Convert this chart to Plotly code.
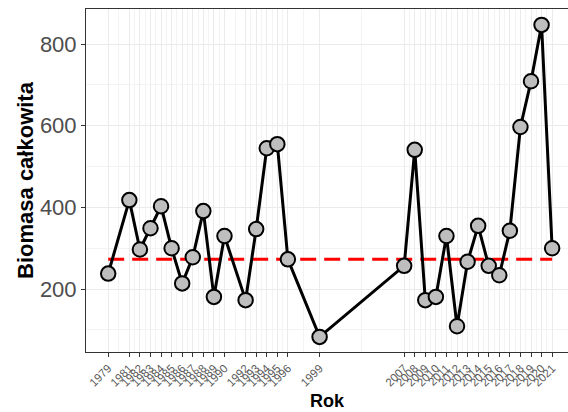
import plotly.graph_objects as go

years = [1979, 1981, 1982, 1983, 1984, 1985, 1986, 1987, 1988, 1989, 1990,
         1992, 1993, 1994, 1995, 1996, 1999,
         2007, 2008, 2009, 2010, 2011, 2012, 2013, 2014, 2015, 2016, 2017,
         2018, 2019, 2020, 2021]
biomasa = [238, 418, 297, 349, 403, 300, 214, 278, 391, 181, 330,
           173, 347, 545, 555, 273, 83,
           257, 541, 173, 181, 330, 109, 267, 355, 257, 234, 343,
           597, 709, 847, 300]
ref_level = 273
y_ticks = [200, 400, 600, 800]
y_minor = [100, 300, 500, 700]

x_minor = [(a + b) / 2 for a, b in zip(years[:-1], years[1:])]

FONT = "Liberation Sans, Arial, sans-serif"

fig = go.Figure()
fig.add_trace(go.Scatter(
    x=[years[0], years[-1]], y=[ref_level, ref_level], mode="lines",
    line=dict(color="#ff0000", width=3, dash="16px,8px"),
    hoverinfo="skip", showlegend=False))
fig.add_trace(go.Scatter(
    x=years, y=biomasa, mode="lines+markers",
    line=dict(color="black", width=3),
    marker=dict(size=14.5, color="#bebebe", line=dict(color="black", width=2)),
    showlegend=False))

fig.update_layout(
    width=568, height=412,
    margin=dict(l=86, r=0, t=9, b=60),
    paper_bgcolor="white", plot_bgcolor="white",
    font=dict(family=FONT),
    xaxis=dict(
        range=[1976.9, 2022.5],
        tickmode="array", tickvals=years, ticktext=[str(y) for y in years],
        tickangle=-45, tickfont=dict(size=11.5, color="#5a5a5a", family=FONT),
        ticks="outside", ticklen=4, tickcolor="#333333", tickwidth=1,
        showgrid=True, gridcolor="#ebebeb", gridwidth=1,
        minor=dict(tickmode="array", tickvals=x_minor, showgrid=True,
                   gridcolor="#f3f3f3", gridwidth=0.6, ticks=""),
        showline=True, linecolor="#333333", linewidth=1, mirror=True,
        zeroline=False,
        title=dict(text="<b>Rok</b>", font=dict(size=18, color="black", family=FONT),
                   standoff=6),
    ),
    yaxis=dict(
        range=[46, 886],
        tickmode="array", tickvals=y_ticks,
        tickfont=dict(size=22, color="#4d4d4d", family=FONT),
        ticks="outside", ticklen=4, tickcolor="#333333", tickwidth=1,
        showgrid=True, gridcolor="#ebebeb", gridwidth=1,
        minor=dict(tickmode="array", tickvals=y_minor, showgrid=True,
                   gridcolor="#f3f3f3", gridwidth=0.6, ticks=""),
        showline=True, linecolor="#333333", linewidth=1, mirror=False,
        zeroline=False,
        title=dict(text="<b>Biomasa całkowita</b>",
                   font=dict(size=22, color="black", family=FONT), standoff=0),
    ),
)

fig.write_html("out.html")
